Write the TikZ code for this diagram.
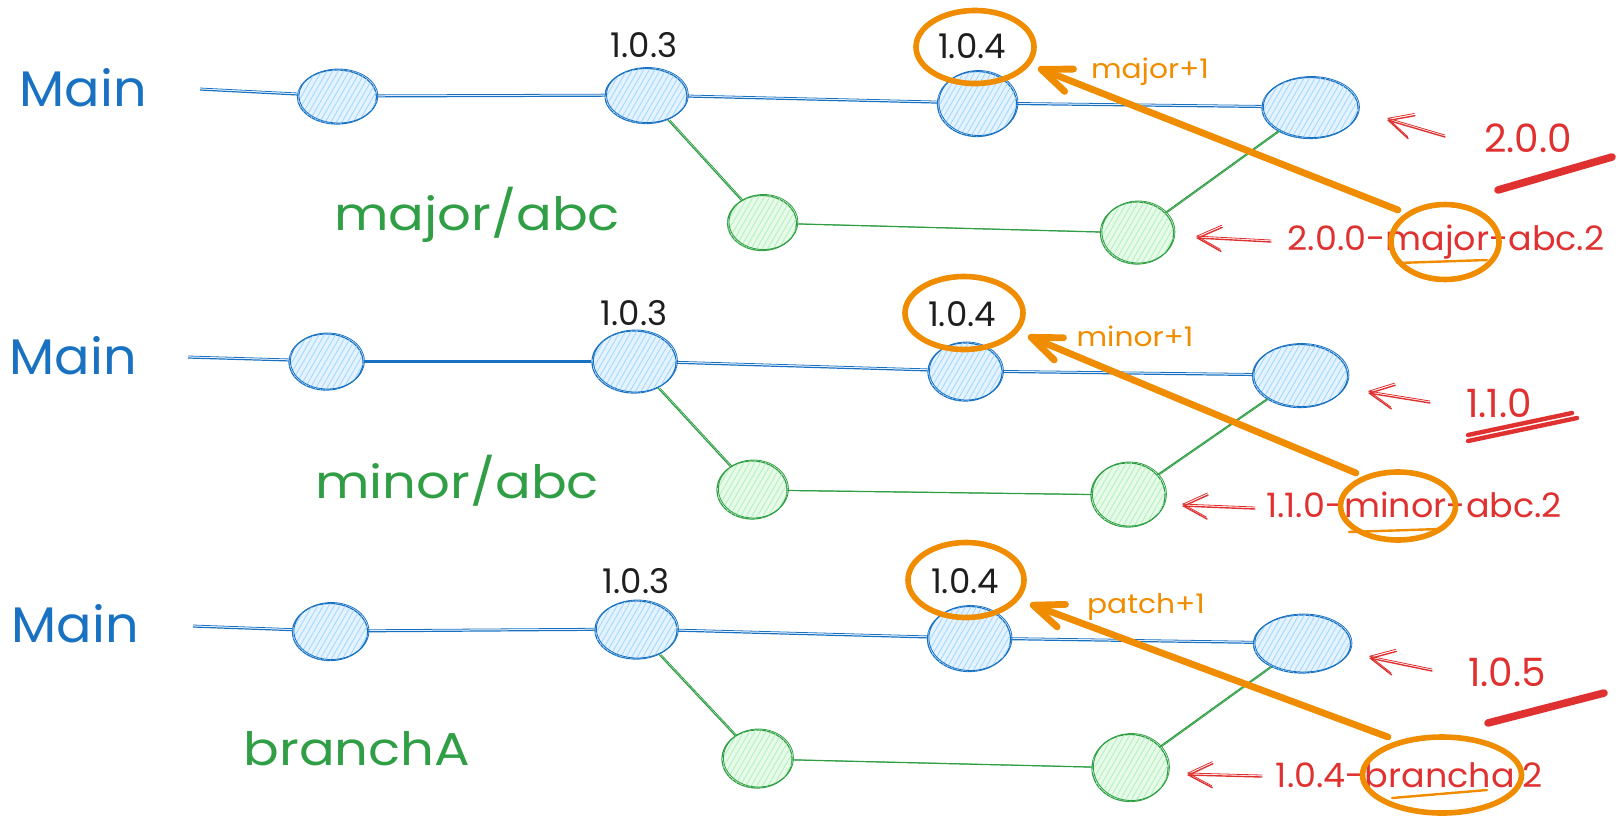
\documentclass[tikz,border=0pt]{standalone}
\usepackage{fontspec}
\usepackage{graphicx}
\setmainfont{Poppins}
\usetikzlibrary{shapes.geometric,arrows.meta,patterns.meta}
\definecolor{cB}{HTML}{1971C2}
\definecolor{cBf}{HTML}{A5D8FF}
\definecolor{cG}{HTML}{2F9E44}
\definecolor{cGf}{HTML}{B2F2BB}
\definecolor{cR}{HTML}{E03131}
\definecolor{cO}{HTML}{F08C00}
\definecolor{cK}{HTML}{1E1E1E}
\newcommand\hs[2]{\scalebox{#1}[1]{#2}}
\tikzset{
  commitB/.style={ellipse, inner sep=0pt, draw=cB, line width=0.6pt, fill=cBf!30,
    postaction={pattern={Lines[angle=60,distance=2.4pt,line width=0.45pt]}, pattern color=cBf},
    postaction={draw=cB, line width=0.4pt, transform canvas={xshift=0.7pt,yshift=0.5pt}}},
  commitG/.style={ellipse, inner sep=0pt, draw=cG, line width=0.6pt, fill=cGf!30,
    postaction={pattern={Lines[angle=60,distance=2.4pt,line width=0.45pt]}, pattern color=cGf},
    postaction={draw=cG, line width=0.4pt, transform canvas={xshift=0.7pt,yshift=0.5pt}}},
  lineB/.style={draw=cB, line width=0.6pt, postaction={draw=cB, line width=0.4pt, transform canvas={yshift=1pt}}},
  lineG/.style={draw=cG, line width=0.6pt, postaction={draw=cG, line width=0.4pt, transform canvas={xshift=1pt}}},
  mainlbl/.style={text=cB, font=\fontsize{25}{30}\selectfont, inner sep=0pt},
  brlbl/.style={text=cG, font=\fontsize{23}{28}\selectfont, anchor=base, inner sep=0pt},
  verlbl/.style={text=cK, font=\fontsize{17}{20}\selectfont, inner sep=0pt},
  redlbl/.style={text=cR, font=\fontsize{19.5}{22}\selectfont, inner sep=0pt},
  redlong/.style={text=cR, font=\fontsize{16.8}{20}\selectfont, anchor=base, inner sep=0pt},
  inclbl/.style={text=cO, font=\fontsize{13.5}{16}\selectfont, anchor=base, inner sep=0pt},
  ring/.style={ellipse, draw=cO, line width=2.8pt, inner sep=0pt},
  bump/.style={draw=cO, line width=3.4pt, line cap=round,
    -{Straight Barb[length=15pt,width=12pt,line cap=round,round]}},
  redarrow/.style={draw=cR, line width=0.7pt, line cap=round,
    -{Straight Barb[length=12pt,width=12pt,line cap=round]},
    postaction={draw=cR, line width=0.4pt, transform canvas={yshift=1pt}}},
  redbar/.style={draw=cR, line width=3.8pt, line cap=round},
  redbarthin/.style={draw=cR, line width=2.2pt, line cap=round},
  oline/.style={draw=cO, line width=1.2pt, line cap=round},
}
\begin{document}
\begin{tikzpicture}[x=0.5pt,y=-0.5pt]
\useasboundingbox (0,0) rectangle (1620,820);

% ================= Row 1 =================
\node[mainlbl] (m1) at (83,88) {\hs{1.05}{Main}};
\coordinate (s1) at (200,90);
\node[commitB, minimum width=39.5pt, minimum height=27pt] (n11) at (337,97) {};
\node[commitB, minimum width=41pt, minimum height=27.5pt] (n12) at (646,96) {};
\node[commitB, minimum width=39.5pt, minimum height=32.5pt] (n13) at (977,104) {};
\node[commitB, minimum width=48pt, minimum height=30.5pt] (n14) at (1310,108) {};
\node[commitG, minimum width=34.5pt, minimum height=27.5pt] (g11) at (762,223) {};
\node[commitG, minimum width=36.5pt, minimum height=31pt] (g12) at (1137,233) {};
\draw[lineB] (s1) -- (n11);
\draw[lineB] (n11) -- (n12);
\draw[lineB] (n12) -- (n13);
\draw[lineB] (n13) -- (n14);
\draw[lineG] (n12) -- (g11);
\draw[lineG] (g11) -- (g12);
\draw[lineG] (g12) -- (n14);
\node[verlbl] (v13) at (644,45) {1.0.3};
\node[verlbl] (v14) at (972,46) {1.0.4};
\node[ring, minimum width=59pt, minimum height=36.5pt] (r14) at (975,47) {};
\node[brlbl] (b1) at (477,230) {\hs{1.15}{major/abc}};
\node[inclbl] (i1) at (1150,78) {\hs{1.1}{major+1}};
\node[redlbl] (t1) at (1528,138) {2.0.0};
\draw[redbar] (1498,190) -- (1612,157);
\node[redlong] (l1) at (1446,250) {\hs{1.04}{2.0.0-major-abc.2}};
\node[ring, minimum width=54pt, minimum height=37.5pt] (r1) at (1445,242) {};
\draw[oline] (1397,263) -- (1487,260);
\coordinate (oa1) at (1398,210);
\coordinate (ob1) at (1038,68);
\draw[bump] (oa1) -- (ob1);
\coordinate (ra1) at (1445,137);
\coordinate (rb1) at (1387,120);
\draw[redarrow] (ra1) -- (rb1);
\coordinate (rc1) at (1271,242);
\coordinate (rd1) at (1196,238);
\draw[redarrow] (rc1) -- (rd1);

% ================= Row 2 =================
\node[mainlbl] (m2) at (73,356) {\hs{1.05}{Main}};
\coordinate (s2) at (188,358);
\node[commitB, minimum width=37pt, minimum height=28pt] (n21) at (326,362) {};
\node[commitB, minimum width=42pt, minimum height=31pt] (n22) at (634,362) {};
\node[commitB, minimum width=37pt, minimum height=29pt] (n23) at (965,372) {};
\node[commitB, minimum width=47.5pt, minimum height=31.5pt] (n24) at (1300,376) {};
\node[commitG, minimum width=35pt, minimum height=29pt] (g21) at (752,490) {};
\node[commitG, minimum width=37pt, minimum height=32pt] (g22) at (1128,495) {};
\draw[lineB] (s2) -- (n21);
\draw[lineB] (n21) -- (n22);
\draw[lineB] (n22) -- (n23);
\draw[lineB] (n23) -- (n24);
\draw[lineG] (n22) -- (g21);
\draw[lineG] (g21) -- (g22);
\draw[lineG] (g22) -- (n24);
\node[verlbl] (v23) at (634,313) {1.0.3};
\node[verlbl] (v24) at (962,314) {1.0.4};
\node[ring, minimum width=59pt, minimum height=36.5pt] (r24) at (964,313) {};
\node[brlbl] (b2) at (457,498) {\hs{1.15}{minor/abc}};
\node[inclbl] (i2) at (1135,346) {\hs{1.1}{minor+1}};
\node[redlbl] (t2) at (1499,403) {1.1.0};
\draw[redbarthin] (1468,435) -- (1572,413);
\draw[redbarthin] (1468,441) -- (1577,418);
\node[redlong] (l2) at (1414,517) {\hs{1.04}{1.1.0-minor-abc.2}};
\node[ring, minimum width=57.5pt, minimum height=34pt] (r2) at (1398,506) {};
\draw[oline] (1349,532) -- (1439,529);
\coordinate (oa2) at (1356,473);
\coordinate (ob2) at (1028,336);
\draw[bump] (oa2) -- (ob2);
\coordinate (ra2) at (1430,403);
\coordinate (rb2) at (1368,393);
\draw[redarrow] (ra2) -- (rb2);
\coordinate (rc2) at (1255,509);
\coordinate (rd2) at (1182,506);
\draw[redarrow] (rc2) -- (rd2);

% ================= Row 3 =================
\node[mainlbl] (m3) at (75,624) {\hs{1.05}{Main}};
\coordinate (s3) at (193,627);
\node[commitB, minimum width=37.5pt, minimum height=28.5pt] (n31) at (330,632) {};
\node[commitB, minimum width=41pt, minimum height=29pt] (n32) at (636,630) {};
\node[commitB, minimum width=41.5pt, minimum height=32.5pt] (n33) at (969,639) {};
\node[commitB, minimum width=48.5pt, minimum height=29pt] (n34) at (1302,644) {};
\node[commitG, minimum width=35pt, minimum height=29pt] (g31) at (757,759) {};
\node[commitG, minimum width=38pt, minimum height=33.5pt] (g32) at (1130,768) {};
\draw[lineB] (s3) -- (n31);
\draw[lineB] (n31) -- (n32);
\draw[lineB] (n32) -- (n33);
\draw[lineB] (n33) -- (n34);
\draw[lineG] (n32) -- (g31);
\draw[lineG] (g31) -- (g32);
\draw[lineG] (g32) -- (n34);
\node[verlbl] (v33) at (636,581) {1.0.3};
\node[verlbl] (v34) at (965,581) {1.0.4};
\node[ring, minimum width=58pt, minimum height=37.5pt] (r34) at (966,580) {};
\node[brlbl] (b3) at (357,765) {\hs{1.15}{branchA}};
\node[inclbl] (i3) at (1146,613) {\hs{1.1}{patch+1}};
\node[redlbl] (t3) at (1507,672) {1.0.5};
\draw[redbar] (1488,723) -- (1604,693);
\node[redlong] (l3) at (1409,787) {\hs{1.04}{1.0.4-brancha.2}};
\node[ring, minimum width=79.5pt, minimum height=38pt] (r3) at (1442,775) {};
\draw[oline] (1392,798) -- (1487,790);
\coordinate (oa3) at (1388,737);
\coordinate (ob3) at (1030,604);
\draw[bump] (oa3) -- (ob3);
\coordinate (ra3) at (1432,671);
\coordinate (rb3) at (1369,658);
\draw[redarrow] (ra3) -- (rb3);
\coordinate (rc3) at (1262,777);
\coordinate (rd3) at (1187,775);
\draw[redarrow] (rc3) -- (rd3);
\end{tikzpicture}
\end{document}
